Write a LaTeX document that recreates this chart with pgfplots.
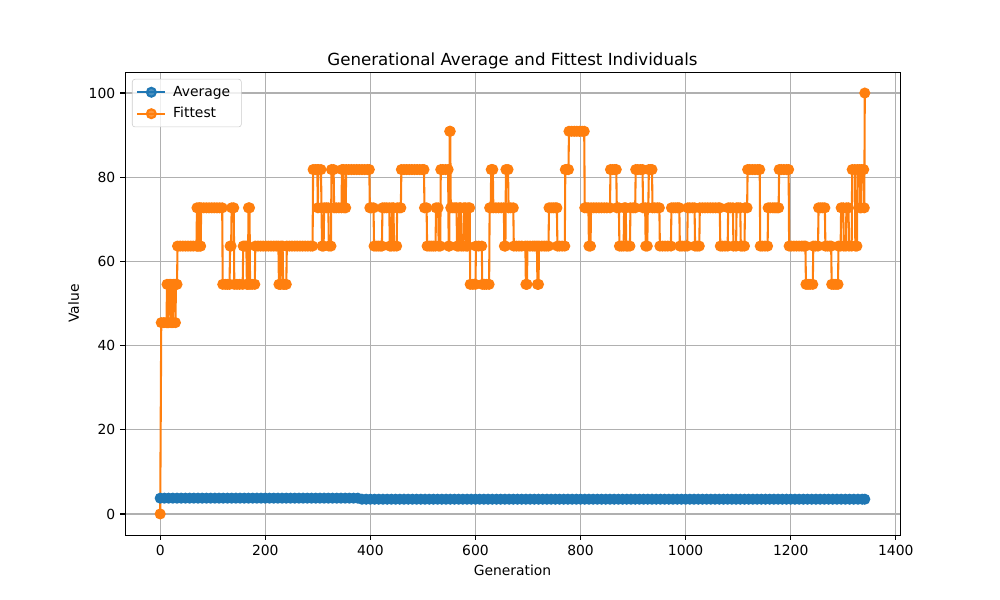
\documentclass[border=0pt]{standalone}
\usepackage{fontspec}
\setmainfont{DejaVu Sans}
\usepackage{pgfplots}
\pgfplotsset{compat=1.18}
\definecolor{mplblue}{HTML}{1F77B4}
\definecolor{mplorange}{HTML}{FF7F0E}
\definecolor{gridgray}{HTML}{B0B0B0}
\definecolor{legedge}{HTML}{CCCCCC}
\begin{document}
\begin{tikzpicture}
\begin{axis}[
    scale only axis,
    width=558pt, height=333.36pt,
    xmin=-67, xmax=1408, ymin=-5, ymax=105,
    xtick={0,200,...,1400}, ytick={0,20,...,100},
    grid=major, grid style={gridgray, line width=0.8pt},
    axis line style={line width=0.7pt},
    tick align=outside, tick pos=left, major tick length=3.5pt,
    every tick/.style={black, line width=0.8pt},
    /pgf/number format/assume math mode=true,
    /pgf/number format/1000 sep={},
    ticklabel style={font=\fontsize{10}{12}\selectfont},
    title={Generational Average and Fittest Individuals},
    title style={font=\fontsize{12}{14}\selectfont, yshift=-7pt},
    xlabel={Generation}, ylabel={Value},
    label style={font=\fontsize{10}{12}\selectfont},
    legend cell align=left,
    legend style={at={(0.009,0.985)}, anchor=north west,
        draw=legedge, rounded corners=2pt, fill=white, fill opacity=0.8,
        text opacity=1, font=\fontsize{10}{12}\selectfont,
        inner xsep=3pt, inner ysep=3pt, row sep=2.5pt,
        nodes={inner xsep=5pt}},
    legend image code/.code={
        \draw[mark repeat=2,mark phase=2] plot coordinates {(0pt,0pt) (10pt,0pt) (20pt,0pt)};},
]
% average fitness per generation
\addplot[mplblue, line width=1.5pt, mark=*, mark size=3.2pt,
    mark options={solid, fill=mplblue, draw=mplblue}] coordinates {
(0,3.75)(8,3.75)(16,3.75)(24,3.75)(32,3.75)(40,3.75)(48,3.75)(56,3.75)(64,3.75)(72,3.75)
(80,3.75)(88,3.75)(96,3.75)(104,3.75)(112,3.75)(120,3.75)(128,3.75)(136,3.75)(144,3.75)(152,3.75)
(160,3.75)(168,3.75)(176,3.75)(184,3.75)(192,3.75)(200,3.75)(208,3.75)(216,3.75)(224,3.75)(232,3.75)
(240,3.75)(248,3.75)(256,3.75)(264,3.75)(272,3.75)(280,3.75)(288,3.75)(296,3.75)(304,3.75)(312,3.75)
(320,3.75)(328,3.75)(336,3.75)(344,3.75)(352,3.75)(360,3.75)(368,3.75)(376,3.75)
(384,3.5)(392,3.5)(400,3.5)(408,3.5)(416,3.5)(424,3.5)(432,3.5)(440,3.5)(448,3.5)(456,3.5)
(464,3.5)(472,3.5)(480,3.5)(488,3.5)(496,3.5)(504,3.5)(512,3.5)(520,3.5)(528,3.5)(536,3.5)
(544,3.5)(552,3.5)(560,3.5)(568,3.5)(576,3.5)(584,3.5)(592,3.5)(600,3.5)(608,3.5)(616,3.5)
(624,3.5)(632,3.5)(640,3.5)(648,3.5)(656,3.5)(664,3.5)(672,3.5)(680,3.5)(688,3.5)(696,3.5)
(704,3.5)(712,3.5)(720,3.5)(728,3.5)(736,3.5)(744,3.5)(752,3.5)(760,3.5)(768,3.5)(776,3.5)
(784,3.5)(792,3.5)(800,3.5)(808,3.5)(816,3.5)(824,3.5)(832,3.5)(840,3.5)(848,3.5)(856,3.5)
(864,3.5)(872,3.5)(880,3.5)(888,3.5)(896,3.5)(904,3.5)(912,3.5)(920,3.5)(928,3.5)(936,3.5)
(944,3.5)(952,3.5)(960,3.5)(968,3.5)(976,3.5)(984,3.5)(992,3.5)(1000,3.5)(1008,3.5)(1016,3.5)
(1024,3.5)(1032,3.5)(1040,3.5)(1048,3.5)(1056,3.5)(1064,3.5)(1072,3.5)(1080,3.5)(1088,3.5)(1096,3.5)
(1104,3.5)(1112,3.5)(1120,3.5)(1128,3.5)(1136,3.5)(1144,3.5)(1152,3.5)(1160,3.5)(1168,3.5)(1176,3.5)
(1184,3.5)(1192,3.5)(1200,3.5)(1208,3.5)(1216,3.5)(1224,3.5)(1232,3.5)(1240,3.5)(1248,3.5)(1256,3.5)
(1264,3.5)(1272,3.5)(1280,3.5)(1288,3.5)(1296,3.5)(1304,3.5)(1312,3.5)(1320,3.5)(1328,3.5)(1336,3.5)
(1341,3.5)
};
\addlegendentry{Average}
% fittest individual per generation
\addplot[mplorange, line width=1.5pt, mark=*, mark size=3.2pt,
    mark options={solid, fill=mplorange, draw=mplorange}] coordinates {
(0,0)
(2,45.45)(7,45.45)(12,45.45)(13,54.55)(14,45.45)(16,45.45)(17,54.55)(20,54.55)
(21,45.45)(24,45.45)(25,54.55)(28,54.55)(29,45.45)(30,54.55)(32,54.55)
(33,63.64)(38,63.64)(43,63.64)(48,63.64)(53,63.64)(58,63.64)(63,63.64)(69,63.64)
(70,72.73)(71,63.64)(73,63.64)(74,72.73)(75,72.73)(76,63.64)(77,63.64)
(78,72.73)(83,72.73)(88,72.73)(93,72.73)(98,72.73)(103,72.73)(108,72.73)(113,72.73)(118,72.73)
(119,54.55)(124,54.55)(128,54.55)(132,54.55)(133,63.64)(135,63.64)(136,72.73)(140,72.73)
(141,54.55)(146,54.55)(151,54.55)(157,54.55)(158,63.64)(161,63.64)(164,63.64)
(165,54.55)(167,54.55)(168,72.73)(170,72.73)(171,54.55)(175,54.55)(180,54.55)
(181,63.64)(186,63.64)(191,63.64)(196,63.64)(201,63.64)(206,63.64)(211,63.64)(216,63.64)(221,63.64)(225,63.64)
(226,54.55)(229,54.55)(230,63.64)(233,63.64)(234,54.55)(237,54.55)(240,54.55)
(241,63.64)(246,63.64)(251,63.64)(256,63.64)(261,63.64)(266,63.64)(271,63.64)(276,63.64)(281,63.64)(286,63.64)(290,63.64)
(291,81.82)(295,81.82)(299,81.82)(300,72.73)(301,81.82)(306,81.82)(307,72.73)
(308,63.64)(311,63.64)(312,72.73)(316,72.73)(320,72.73)(321,63.64)(325,63.64)
(326,81.82)(330,81.82)(331,72.73)(335,72.73)(340,72.73)(345,72.73)(346,81.82)(349,81.82)
(350,72.73)(353,72.73)
(354,81.82)(359,81.82)(364,81.82)(369,81.82)(374,81.82)(379,81.82)(384,81.82)(389,81.82)(394,81.82)(398,81.82)
(399,72.73)(402,72.73)(406,72.73)(407,63.64)(411,63.64)(415,63.64)(419,63.64)(422,63.64)
(423,72.73)(427,72.73)(431,72.73)(436,72.73)(437,63.64)(440,63.64)(441,72.73)(444,72.73)
(445,63.64)(450,63.64)(451,72.73)(455,72.73)(458,72.73)
(459,81.82)(464,81.82)(469,81.82)(474,81.82)(479,81.82)(484,81.82)(489,81.82)(494,81.82)(499,81.82)(502,81.82)
(503,72.73)(507,72.73)(508,63.64)(512,63.64)(516,63.64)(520,63.64)(524,63.64)
(525,72.73)(529,72.73)(530,63.64)(533,63.64)(534,81.82)(538,81.82)(543,81.82)(548,81.82)
(549,63.64)(550,63.64)(551,90.91)(552,90.91)(553,72.73)(557,72.73)(561,72.73)(564,72.73)
(565,63.64)(568,63.64)(569,72.73)(572,72.73)(573,63.64)(577,63.64)(578,72.73)(581,72.73)
(582,63.64)(585,63.64)(586,72.73)(589,72.73)(590,54.55)(595,54.55)(600,54.55)
(601,63.64)(606,63.64)(612,63.64)(613,54.55)(617,54.55)(621,54.55)(626,54.55)
(627,72.73)(629,72.73)(630,81.82)(633,81.82)(634,72.73)(639,72.73)(644,72.73)(649,72.73)(654,72.73)
(655,63.64)(657,63.64)(658,81.82)(662,81.82)(663,72.73)(667,72.73)(672,72.73)
(673,63.64)(678,63.64)(683,63.64)(688,63.64)(695,63.64)(696,54.55)(698,54.55)
(699,63.64)(704,63.64)(709,63.64)(713,63.64)(717,63.64)(718,54.55)(720,54.55)
(721,63.64)(726,63.64)(731,63.64)(735,63.64)(739,63.64)
(740,72.73)(744,72.73)(748,72.73)(752,72.73)(755,72.73)
(756,63.64)(760,63.64)(765,63.64)(770,63.64)(771,81.82)(774,81.82)(777,81.82)
(778,90.91)(783,90.91)(788,90.91)(793,90.91)(798,90.91)(803,90.91)(807,90.91)
(808,72.73)(812,72.73)(815,72.73)(816,63.64)(819,63.64)
(820,72.73)(825,72.73)(830,72.73)(835,72.73)(840,72.73)(845,72.73)(850,72.73)(856,72.73)
(857,81.82)(861,81.82)(865,81.82)(868,81.82)(869,72.73)(873,72.73)
(874,63.64)(878,63.64)(882,63.64)(883,72.73)(886,72.73)(887,63.64)(890,63.64)(894,63.64)
(895,72.73)(900,72.73)(904,72.73)(905,81.82)(909,81.82)(914,81.82)(918,81.82)
(919,72.73)(923,72.73)(924,63.64)(927,63.64)(928,72.73)(929,72.73)
(930,81.82)(933,81.82)(936,81.82)(937,72.73)(941,72.73)(946,72.73)(950,72.73)
(951,63.64)(956,63.64)(961,63.64)(966,63.64)(972,63.64)
(973,72.73)(977,72.73)(981,72.73)(985,72.73)(988,72.73)
(989,63.64)(993,63.64)(998,63.64)(1003,63.64)(1004,72.73)(1008,72.73)(1013,72.73)(1017,72.73)
(1018,63.64)(1022,63.64)(1026,63.64)
(1027,72.73)(1032,72.73)(1037,72.73)(1042,72.73)(1047,72.73)(1052,72.73)(1057,72.73)(1062,72.73)(1065,72.73)
(1066,63.64)(1070,63.64)(1075,63.64)(1080,63.64)(1081,72.73)(1085,72.73)(1090,72.73)
(1091,63.64)(1096,63.64)(1097,72.73)(1100,72.73)(1104,72.73)(1105,63.64)(1108,63.64)(1112,63.64)
(1113,72.73)(1117,72.73)
(1118,81.82)(1122,81.82)(1127,81.82)(1132,81.82)(1137,81.82)(1141,81.82)
(1142,63.64)(1146,63.64)(1151,63.64)(1156,63.64)
(1157,72.73)(1161,72.73)(1166,72.73)(1170,72.73)(1174,72.73)(1177,72.73)
(1178,81.82)(1182,81.82)(1187,81.82)(1192,81.82)(1196,81.82)
(1197,63.64)(1201,63.64)(1206,63.64)(1211,63.64)(1216,63.64)(1221,63.64)(1225,63.64)(1228,63.64)
(1229,54.55)(1233,54.55)(1237,54.55)(1242,54.55)(1243,63.64)(1247,63.64)(1252,63.64)
(1253,72.73)(1257,72.73)(1261,72.73)(1265,72.73)(1266,63.64)(1270,63.64)(1274,63.64)(1277,63.64)
(1278,54.55)(1282,54.55)(1286,54.55)(1290,54.55)(1291,63.64)(1295,63.64)(1296,72.73)(1300,72.73)
(1301,63.64)(1305,63.64)(1306,72.73)(1310,72.73)(1311,63.64)(1316,63.64)(1317,81.82)(1322,81.82)
(1323,63.64)(1326,63.64)(1327,81.82)(1331,81.82)(1332,72.73)(1334,72.73)(1335,81.82)(1339,81.82)
(1340,72.73)(1341,100)
};
\addlegendentry{Fittest}
\end{axis}
\path ([xshift=-90pt,yshift=-46.8pt]current axis.south west) rectangle ([xshift=72pt,yshift=51.84pt]current axis.north east);
\end{tikzpicture}
\end{document}
